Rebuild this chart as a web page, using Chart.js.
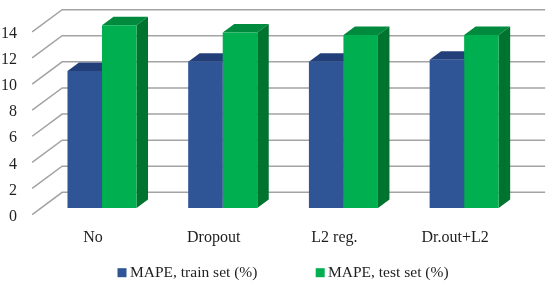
<!DOCTYPE html>
<html>
<head>
<meta charset="utf-8">
<script src="https://cdn.jsdelivr.net/npm/chart.js@4/dist/chart.umd.min.js"></script>
<style>
    html, body { margin: 0; padding: 0; background: #ffffff; }
    #wrap { width: 550px; height: 282px; }
</style>
</head>
<body>
<div id="wrap"><canvas id="myChart" width="550" height="282"></canvas></div>
<script>
const categories = ['No', 'Dropout', 'L2 reg.', 'Dr.out+L2'];
const trainLabel = 'MAPE, train set (%)';
const testLabel = 'MAPE, test set (%)';
const trainValues = [10.5, 11.2, 11.2, 11.35];
const testValues = [14.0, 13.45, 13.25, 13.25];
const yTicks = [0, 2, 4, 6, 8, 10, 12, 14];

const textColor = '#1f1f1f';
const fontName = '"Liberation Serif", serif';

// colours of the extruded faces, per dataset
const faces = [
    { top: '#233f7a', side: '#203864' },
    { top: '#008a3e', side: '#00732f' }
];

// x of swatch and text for each legend entry
const legendSpots = [
    { box: 117.5, text: 130 },
    { box: 315.7, text: 328 }
];

// fake 3d box and back wall, positions come from the scales
const box3d = {
    id: 'box3d',
    beforeDatasetsDraw(chart) {
        const c = chart.ctx;
        const y = chart.scales.y;
        const left = chart.chartArea.left;

        c.save();
        c.strokeStyle = '#a3a3a3';
        c.lineWidth = 1.5;
        yTicks.forEach(function (v) {
            const p = y.getPixelForValue(v);
            c.beginPath();
            c.moveTo(left - 9.5, p + 6.6);
            c.lineTo(left + 20.5, p - 15.6);
            c.lineTo(left + 503.5, p - 15.6);
            c.stroke();
        });

        const dx = 11.5;
        const dy = 8.5;
        chart.data.datasets.forEach(function (ds, i) {
            chart.getDatasetMeta(i).data.forEach(function (bar) {
                const x0 = bar.x - bar.width / 2;
                const x1 = bar.x + bar.width / 2;
                const base = bar.base;

                c.fillStyle = faces[i].top;
                c.beginPath();
                c.moveTo(x0, bar.y);
                c.lineTo(x0 + dx, bar.y - dy);
                c.lineTo(x1 + dx, bar.y - dy);
                c.lineTo(x1, bar.y);
                c.closePath();
                c.fill();

                c.fillStyle = faces[i].side;
                c.beginPath();
                c.moveTo(x1, bar.y);
                c.lineTo(x1 + dx, bar.y - dy);
                c.lineTo(x1 + dx, base - dy);
                c.lineTo(x1, base);
                c.closePath();
                c.fill();
            });
        });
        c.restore();
    },
    // the gap between the entries is wider than the built in legend allows
    afterDraw(chart) {
        const c = chart.ctx;
        c.save();
        c.font = '15.5px ' + fontName;
        c.textBaseline = 'middle';
        chart.data.datasets.forEach(function (ds, i) {
            c.fillStyle = ds.backgroundColor;
            c.fillRect(legendSpots[i].box, 268.2, 9, 9);
            c.fillStyle = textColor;
            c.fillText(ds.label, legendSpots[i].text, 272.7);
        });
        c.restore();
    }
};

const ctx = document.getElementById('myChart');

let chart = new Chart(ctx, {
    type: 'bar',
    data: {
        labels: categories,
        datasets: [{
            label: trainLabel,
            data: trainValues,
            backgroundColor: '#2f5597',
            categoryPercentage: 0.572,
            barPercentage: 1
        }, {
            label: testLabel,
            data: testValues,
            backgroundColor: '#00b050',
            categoryPercentage: 0.572,
            barPercentage: 1
        }]
    },
    options: {
        responsive: false,
        animation: false,
        layout: {
            padding: { top: 12.2, right: 25.5, bottom: 0, left: 0 }
        },
        plugins: {
            tooltip: { enabled: false },
            legend: { display: false }
        },
        scales: {
            x: {
                display: false
            },
            y: {
                display: false,
                min: -1,
                max: 15
            },
            // label axes, moved onto the front edge of the floor
            x2: {
                axis: 'x',
                type: 'linear',
                position: 'bottom',
                offset: false,
                min: -0.4254,
                max: 3.5746,
                grid: { display: false, drawTicks: false },
                border: { display: false },
                afterBuildTicks(scale) {
                    scale.ticks = categories.map(function (c, i) { return { value: i }; });
                },
                afterFit(scale) {
                    scale.height = 61;
                    scale.paddingLeft = 0;
                    scale.paddingRight = 0;
                },
                ticks: {
                    autoSkip: false,
                    maxRotation: 0,
                    padding: 7.4,
                    color: textColor,
                    font: { family: fontName, size: 16 },
                    callback: function (v) { return categories[v]; }
                }
            },
            y2: {
                axis: 'y',
                type: 'linear',
                position: 'left',
                min: -0.34,
                max: 15.66,
                grid: { display: false, drawTicks: false },
                border: { display: false },
                afterBuildTicks(scale) {
                    scale.ticks = yTicks.map(function (v) { return { value: v }; });
                },
                afterFit(scale) {
                    scale.width = 41.65;
                    scale.paddingTop = 0;
                    scale.paddingBottom = 0;
                },
                ticks: {
                    padding: 24.6,
                    color: textColor,
                    font: { family: fontName, size: 16 }
                }
            }
        }
    },
    plugins: [box3d]
});
</script>
</body>
</html>
